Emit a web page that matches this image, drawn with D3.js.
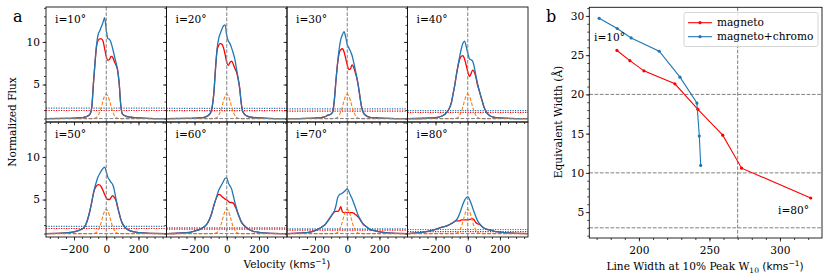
<!DOCTYPE html>
<html>
<head>
<meta charset="utf-8">
<script src="https://cdn.jsdelivr.net/npm/d3@7"></script>
<style>
body { margin: 0; background: #fff; }
text { font-family: "DejaVu Serif", serif; font-size: 10.6px; fill: #000; }
.sans { font-family: "DejaVu Sans", sans-serif; }
</style>
</head>
<body>
<svg id="fig" width="830" height="278"></svg>
<script>
// ---- data ----
const velocity = [-370,-250,-200,-160,-140,-120,-100,-90,-80,-70,-60,-50,-40,-30,-20,-10,0,10,20,30,40,50,60,70,80,90,100,120,140,160,200,250,370];

const chromo = [1,1,1,1,1,1,1,1,1.01,1.05,1.15,1.4,1.8,2.4,3.1,3.65,3.85,3.65,3.1,2.4,1.8,1.4,1.15,1.05,1.01,1,1,1,1,1,1,1,1];

const inclinations = [10,20,30,40,50,60,70,80];

const total10 = [1.0,1.02,1.05,1.1,1.15,1.25,1.55,2.3,5.0,7.5,9.7,10.9,11.3,11.8,12.3,12.85,11.4,10.4,10.3,9.9,9.2,8.4,7.6,6.8,5.2,2.6,1.55,1.3,1.2,1.15,1.08,1.03,1.0];
const magneto10 = [1.0,1.02,1.05,1.1,1.15,1.25,1.55,2.3,5.0,7.5,9.5,10.2,10.35,10.35,10.1,9.2,8.3,7.85,7.95,8.3,8.2,7.7,7.3,6.7,5.2,2.6,1.55,1.3,1.2,1.15,1.08,1.03,1.0];

const total20 = [1.0,1.02,1.05,1.1,1.15,1.3,1.7,2.4,4.0,6.8,9.2,10.4,11.0,11.5,11.9,12.0,10.7,10.1,9.8,9.3,8.7,8.0,6.9,5.8,4.6,2.8,1.8,1.35,1.2,1.15,1.08,1.03,1.0];
const magneto20 = [1.0,1.02,1.05,1.1,1.15,1.3,1.7,2.4,4.0,6.8,9.0,9.6,9.8,9.75,9.3,8.5,7.6,7.25,7.6,7.75,7.4,6.9,6.5,5.7,4.6,2.8,1.8,1.35,1.2,1.15,1.08,1.03,1.0];

const total30 = [1.0,1.03,1.06,1.12,1.2,1.4,1.55,1.8,3.2,5.5,7.5,9.2,10.3,10.85,11.2,10.6,9.7,9.3,8.9,8.4,7.6,6.7,5.8,4.7,3.4,2.3,1.7,1.3,1.15,1.1,1.06,1.03,1.0];
const magneto30 = [1.0,1.03,1.06,1.12,1.2,1.4,1.55,1.8,3.2,5.5,7.5,8.7,9.1,9.2,8.85,8.1,7.3,6.75,6.85,7.3,7.0,6.4,5.7,4.7,3.4,2.3,1.7,1.3,1.15,1.1,1.06,1.03,1.0];

const total40 = [1.0,1.04,1.1,1.3,1.55,2.0,3.0,4.0,5.0,6.2,7.3,8.3,9.2,9.85,10.1,9.5,8.7,8.05,7.9,7.75,7.1,6.1,5.2,4.4,3.7,3.05,2.4,1.65,1.3,1.18,1.08,1.03,1.0];
const magneto40 = [1.0,1.04,1.1,1.3,1.55,2.0,3.0,4.0,5.0,6.2,7.2,7.95,8.3,8.4,8.0,7.3,6.5,5.95,6.25,6.7,6.5,5.9,5.0,4.35,3.7,3.05,2.4,1.65,1.3,1.18,1.08,1.03,1.0];

const total50 = [1.0,1.08,1.2,1.45,1.65,2.4,3.8,4.7,5.7,6.5,7.15,7.7,8.05,8.4,8.65,8.8,8.3,7.6,7.3,7.0,6.75,6.1,5.1,4.2,3.4,2.7,2.2,1.65,1.4,1.25,1.12,1.05,1.0];
const magneto50 = [1.0,1.08,1.2,1.45,1.65,2.4,3.8,4.7,5.7,6.3,6.6,6.75,6.7,6.45,6.05,5.6,5.2,5.0,5.0,5.25,5.45,5.25,4.9,4.15,3.4,2.7,2.2,1.65,1.4,1.25,1.12,1.05,1.0];

const total60 = [1.0,1.1,1.3,1.55,1.8,2.2,3.0,3.6,4.3,4.9,5.5,6.1,6.45,6.8,7.15,7.5,7.55,6.95,6.6,6.25,5.5,4.7,4.0,3.35,2.85,2.4,2.1,1.75,1.45,1.3,1.15,1.06,1.0];
const magneto60 = [1.0,1.1,1.3,1.55,1.8,2.2,3.0,3.6,4.3,4.9,5.35,5.6,5.55,5.35,5.2,5.05,4.95,4.8,4.65,4.65,4.6,4.25,3.85,3.3,2.85,2.4,2.1,1.75,1.45,1.3,1.15,1.06,1.0];

const total70 = [1.0,1.12,1.35,1.75,2.0,2.5,3.05,3.35,3.65,4.3,5.2,5.55,5.65,5.75,5.9,6.1,6.25,5.95,5.5,5.1,4.6,4.1,3.55,3.05,2.7,2.35,2.1,1.8,1.5,1.38,1.2,1.08,1.0];
const magneto70 = [1.0,1.12,1.35,1.75,2.0,2.5,3.05,3.3,3.55,3.6,3.6,3.75,4.15,3.55,3.45,3.45,3.5,3.5,3.45,3.45,3.4,3.25,3.1,2.9,2.65,2.35,2.1,1.8,1.5,1.38,1.2,1.08,1.0];

const total80 = [1.0,1.25,1.5,1.75,1.85,2.0,2.2,2.3,2.45,2.6,2.9,3.35,3.9,4.45,4.9,5.2,5.35,5.05,4.6,4.05,3.5,3.0,2.55,2.25,2.0,1.8,1.65,1.5,1.4,1.3,1.18,1.08,1.0];
const magneto80 = [1.0,1.25,1.5,1.75,1.85,2.0,2.2,2.3,2.45,2.5,2.5,2.5,2.6,2.6,2.6,2.6,2.6,2.65,2.7,2.75,2.6,2.3,2.15,2.1,2.0,1.8,1.65,1.5,1.4,1.3,1.18,1.08,1.0];

// 10% peak levels (dotted lines)
const totalLevel = [2.23,2.2,2.15,1.95,1.84,1.68,1.56,1.48];
const magnetoLevel = [1.95,1.93,1.87,1.72,1.6,1.52,1.41,1.22];

// panel b
const w10Magneto = [184.4,193.6,203.5,225.5,241.8,259.4,272.8,321.8];
const ewMagneto = [25.6,24.3,23.0,21.35,18.1,14.8,10.6,6.8];
const w10Total = [171.8,184.6,194.5,214.4,229.1,241.1,242.8,243.8];
const ewTotal = [29.7,28.4,27.2,25.5,22.2,18.9,14.7,10.95];

const totals = [total10,total20,total30,total40,total50,total60,total70,total80];
const magnetos = [magneto10,magneto20,magneto30,magneto40,magneto50,magneto60,magneto70,magneto80];

const blue = "#1f77b4", red = "#ff0000", orange = "#ff7f0e", grey = "#808080";
const fs = "10.6px";

const svg = d3.select("#fig");

// ---------------- panel a ----------------
const gridL = 46, gridT = 7, cellW = 120.5, cellH = 115;
const x = d3.scaleLinear().domain([-374, 374]).range([0, cellW]);
const y = d3.scaleLinear().domain([0.6, 14.1]).range([cellH, 0]);
const prof = d3.line().x((d, i) => x(velocity[i])).y(d => y(d)).curve(d3.curveMonotoneX);

inclinations.forEach((inc, k) => {
    var c = k % 4, r = Math.floor(k / 4);
    var g = svg.append("g")
        .attr("transform", "translate(" + (gridL + c * cellW) + "," + (gridT + r * cellH) + ")");

    g.append("clipPath").attr("id", "clip" + k)
        .append("rect").attr("width", cellW).attr("height", cellH);
    var p = g.append("g").attr("clip-path", "url(#clip" + k + ")");

    p.append("line").attr("x1", 0).attr("x2", cellW)
        .attr("y1", y(totalLevel[k])).attr("y2", y(totalLevel[k]))
        .attr("stroke", blue).attr("stroke-width", 1.2).attr("stroke-dasharray", "1.2,1.3");
    p.append("line").attr("x1", 0).attr("x2", cellW)
        .attr("y1", y(magnetoLevel[k])).attr("y2", y(magnetoLevel[k]))
        .attr("stroke", red).attr("stroke-width", 1.2).attr("stroke-dasharray", "1.2,1.3");

    p.append("path").datum(magnetos[k]).attr("d", prof)
        .attr("fill", "none").attr("stroke", red).attr("stroke-width", 1.3);
    p.append("path").datum(totals[k]).attr("d", prof)
        .attr("fill", "none").attr("stroke", blue).attr("stroke-width", 1.3);
    p.append("path").datum(chromo).attr("d", prof)
        .attr("fill", "none").attr("stroke", orange).attr("stroke-width", 1.1)
        .attr("stroke-dasharray", "3.5,1.8");

    p.append("line").attr("x1", x(0)).attr("x2", x(0)).attr("y1", 0).attr("y2", cellH)
        .attr("stroke", grey).attr("stroke-width", 1).attr("stroke-dasharray", "3.7,1.6");
    p.append("line").attr("x1", 0).attr("x2", cellW).attr("y1", y(1)).attr("y2", y(1))
        .attr("stroke", grey).attr("stroke-width", 1).attr("stroke-dasharray", "3.7,1.6");

    // axes
    g.append("g").attr("transform", "translate(0," + cellH + ")")
        .call(d3.axisBottom(x).tickValues([-200, 0, 200]).tickSize(3.5).tickPadding(4.5)
            .tickFormat(r == 1 ? d3.format("d") : ""));
    g.append("g").attr("transform", "translate(0," + cellH + ")")
        .call(d3.axisBottom(x).tickValues(d3.range(-350, 351, 50)).tickSize(2).tickFormat(""));
    g.append("g")
        .call(d3.axisLeft(y).tickValues([5, 10]).tickSize(3.5).tickPadding(2.5)
            .tickFormat(c == 0 ? d3.format("d") : ""));
    g.append("g")
        .call(d3.axisLeft(y).tickValues(d3.range(1, 15, 1)).tickSize(2).tickFormat(""));

    g.append("rect").attr("width", cellW).attr("height", cellH)
        .attr("fill", "none").attr("stroke", "#111").attr("stroke-width", 0.9);

    g.append("text").attr("x", 9).attr("y", 16).text("i=" + inc + "°");
});

svg.selectAll(".domain").remove();
svg.selectAll(".tick line").attr("stroke", "#111").attr("stroke-width", 0.8);
svg.selectAll(".tick text").style("font-size", fs).style("font-family", "DejaVu Serif");

svg.append("text").attr("x", 13).attr("y", 22).style("font-size", "16px").text("a");
svg.append("text").attr("transform", "translate(16,122) rotate(-90)")
    .attr("text-anchor", "middle").text("Normalized Flux");
var vl = svg.append("text").attr("x", 287).attr("y", 268).attr("text-anchor", "middle");
vl.append("tspan").text("Velocity ");
vl.append("tspan").attr("class", "sans").text("(kms");
vl.append("tspan").attr("class", "sans").attr("dy", -4).style("font-size", "7.5px").text("−1");
vl.append("tspan").attr("class", "sans").attr("dy", 4).text(")");

// ---------------- panel b ----------------
const bx = d3.scaleLinear().domain([164.8, 329.8]).range([589.3, 822]);
const by = d3.scaleLinear().domain([1.7, 31.1]).range([238, 7.3]);
const gb = svg.append("g");

[20, 10, 3].forEach(v => {
    gb.append("line").attr("x1", 589.3).attr("x2", 822).attr("y1", by(v)).attr("y2", by(v))
        .attr("stroke", grey).attr("stroke-width", 1).attr("stroke-dasharray", "3.7,1.6");
});
gb.append("line").attr("x1", bx(270)).attr("x2", bx(270)).attr("y1", 7.3).attr("y2", 238)
    .attr("stroke", grey).attr("stroke-width", 1).attr("stroke-dasharray", "3.7,1.6");

const sline = d3.line();
gb.append("path").datum(w10Magneto.map((d, i) => [bx(d), by(ewMagneto[i])]))
    .attr("d", sline).attr("fill", "none").attr("stroke", red).attr("stroke-width", 1.1);
gb.selectAll(".mr").data(w10Magneto).enter().append("circle")
    .attr("cx", d => bx(d)).attr("cy", (d, i) => by(ewMagneto[i])).attr("r", 1.6).attr("fill", red);
gb.append("path").datum(w10Total.map((d, i) => [bx(d), by(ewTotal[i])]))
    .attr("d", sline).attr("fill", "none").attr("stroke", blue).attr("stroke-width", 1.1);
gb.selectAll(".mb").data(w10Total).enter().append("circle")
    .attr("cx", d => bx(d)).attr("cy", (d, i) => by(ewTotal[i])).attr("r", 1.6).attr("fill", blue);

gb.append("g").attr("transform", "translate(0,238)")
    .call(d3.axisBottom(bx).tickValues([200, 250, 300]).tickSize(3.5).tickPadding(4.5));
gb.append("g").attr("transform", "translate(0,238)")
    .call(d3.axisBottom(bx).tickValues(d3.range(170, 330, 10)).tickSize(2).tickFormat(""));
gb.append("g").attr("transform", "translate(589.3,0)")
    .call(d3.axisLeft(by).tickValues([5, 10, 15, 20, 25, 30]).tickSize(3.5).tickPadding(1.5));
gb.append("g").attr("transform", "translate(589.3,0)")
    .call(d3.axisLeft(by).tickValues(d3.range(2, 32, 1)).tickSize(2).tickFormat(""));
gb.selectAll(".domain").remove();
gb.selectAll(".tick line").attr("stroke", "#111").attr("stroke-width", 0.8);
gb.selectAll(".tick text").style("font-size", fs).style("font-family", "DejaVu Serif");
gb.append("rect").attr("x", 589.3).attr("y", 7.3).attr("width", 822 - 589.3).attr("height", 238 - 7.3)
    .attr("fill", "none").attr("stroke", "#111").attr("stroke-width", 0.9);

// legend
const lg = gb.append("g");
lg.append("rect").attr("x", 684).attr("y", 12.5).attr("width", 134).attr("height", 34).attr("rx", 2)
    .attr("fill", "#fff").attr("fill-opacity", 0.8).attr("stroke", "#ccc").attr("stroke-width", 0.8);
[["magneto", red, 22.7], ["magneto+chromo", blue, 36.7]].forEach(e => {
    lg.append("line").attr("x1", 688).attr("x2", 712).attr("y1", e[2]).attr("y2", e[2])
        .attr("stroke", e[1]).attr("stroke-width", 1.1);
    lg.append("circle").attr("cx", 700).attr("cy", e[2]).attr("r", 1.6).attr("fill", e[1]);
    lg.append("text").attr("x", 717).attr("y", e[2] + 3.6).text(e[0]);
});

gb.append("text").attr("x", 594).attr("y", 41).text("i=10°");
gb.append("text").attr("x", 778).attr("y", 214).text("i=80°");

svg.append("text").attr("x", 546).attr("y", 22).style("font-size", "16px").text("b");
svg.append("text").attr("transform", "translate(562,122) rotate(-90)")
    .attr("text-anchor", "middle").text("Equivalent Width (Å)");
var xl = svg.append("text").attr("x", 705).attr("y", 270).attr("text-anchor", "middle");
xl.append("tspan").text("Line Width at 10% Peak W");
xl.append("tspan").attr("dy", 2.5).style("font-size", "7.5px").text("10");
xl.append("tspan").attr("dy", -2.5).text(" ");
xl.append("tspan").attr("class", "sans").text("(kms");
xl.append("tspan").attr("class", "sans").attr("dy", -4).style("font-size", "7.5px").text("−1");
xl.append("tspan").attr("class", "sans").attr("dy", 4).text(")");
</script>
</body>
</html>
